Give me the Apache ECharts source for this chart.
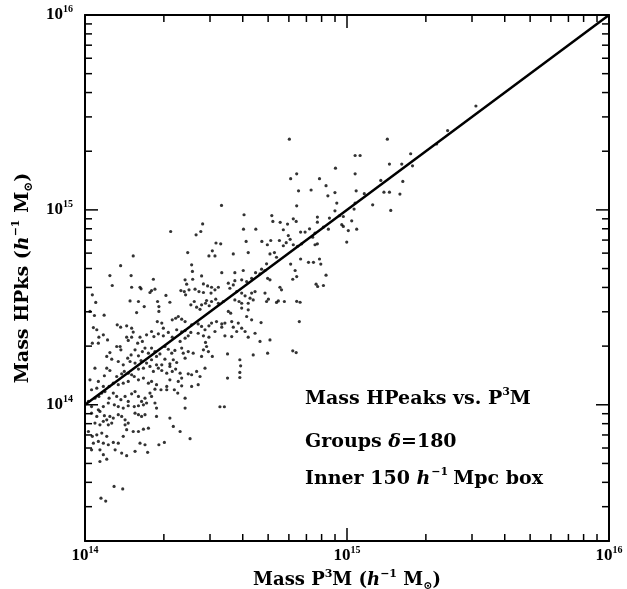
<!DOCTYPE html>
<html><head><meta charset="utf-8">
<script src="https://cdn.jsdelivr.net/npm/echarts@6/dist/echarts.min.js"></script>
<style>html,body{margin:0;padding:0;background:#fff}#c{width:627px;height:589px}</style>
</head><body><div id="c"></div>
<script>
// log10(M / 1e14 h^-1 Msun) for each group: P3M mass (x) and HPeaks mass (y)
const dexP3M = [
.184,.136,.392,.473,.496,.486,.566,.623,.706,.723,.731,.407,
.095,.176,.104,.410,.411,.522,.572,.604,.572,.598,.617,.636,.651,.668,.687,.674,.693,.697,.706,.382,.388,.445,.452,
.028,.041,.178,.210,.214,.261,.254,.267,.248,.309,.366,.379,.384,.397,.420,.435,.452,.468,.483,.481,.496,.509,.547,.553,.566,.579,.598,.611,.636,.649,.744,.750,.687,
.172,.204,.226,.197,.277,.282,.282,.324,.404,.417,.426,.439,.445,.460,.464,.474,.483,.499,.509,.528,.547,.556,.572,.588,.598,.623,.630,.642,.693,.700,.731,.738,.761,.598,.623,.617,
.019,.036,.073,.276,.293,.299,.333,.346,.356,.369,.382,.407,.432,.445,.458,.473,.483,.502,.522,.522,.534,.560,.566,.585,.598,.636,.672,
.032,.045,.053,.070,.123,.136,.159,.178,.184,.159,.178,.210,.235,.254,.219,.201,.165,.121,.134,.086,.028,.051,.263,.280,.299,.318,.333,.350,.369,.382,.382,.363,.394,.404,.432,.452,.460,.473,.496,.534,.560,.579,.611,.623,.649,.668,.706,
.083,.095,.102,.127,.137,.163,.176,.191,.204,.219,.229,.242,.254,.267,.273,.286,.305,.318,.331,.343,.369,.375,.382,.394,.413,.452,.464,.486,.544,.591,.642,.697,.445,.471,.337,.350,.305,.324,.273,.293,.254,.235,.214,.191,.172,.146,.038,
.019,.051,.074,.083,.095,.121,.140,.150,.165,.178,.204,.223,.248,.261,.280,.293,.312,.324,.333,.346,.363,.369,.394,.407,.426,.439,.458,.324,.356,.369,.312,.273,.254,.242,.223,.204,.188,.165,.146,.127,.108,.092,.070,.045,.025,.407,.432,.544,.591,.594,.591,
.013,.025,.038,.053,.064,.076,.092,.108,.121,.137,.153,.165,.178,.191,.204,.216,.229,.248,.254,.267,.290,.312,.341,.354,.382,.382,.267,.273,.235,.223,.204,.188,.165,.146,.127,.112,.089,.070,.051,.515,.532,
.025,.045,.057,.074,.083,.095,.108,.127,.140,.153,.165,.191,.204,.216,.229,.273,.324,.337,.363,.038,.057,.070,.089,.102,.153,.159,
.013,.028,.045,.064,.083,.032,.051,.070,.089,.108,.127,.146,.184,.204,.223,.242,.401,.025,.057,.070,.083,.057,.115,.140,.159,.191,.210,.229,.239,.282,.303,.111,.144,.061,.079,
.780,1.154,1.031,1.050,1.243,.956,1.162,1.209,1.250,.808,.785,.895,1.031,1.129,1.213,.815,.863,.920,.927,.954,1.035,1.066,1.141,1.162,1.202,.521,.808,.961,1.031,1.098,1.167,1.027,.954,.971,.887,.887,.933,.986,1.018,.713,.607,.717,.745,.757,.773,.795,.806,.605,.652,.823,.840,.857,.776,.783,.869,.878,.910,.929,.980,.986,1.005,1.037,.999,.424,.442,.449,.500,.518,.615,.675,.696,.709,.742,.768,.795,.811,.827,.878,.887,.757,.823,.853,.872,.895,.900,.785,.802,.793,.808,.920,.882,.888,.910,.821,.808,.818,.793,.806,
1.492,1.384,1.342,.327
];
const dexHPk = [
.764,.714,.781,.764,.764,.790,.774,.781,.774,.781,.757,.718,
.663,.663,.612,.684,.644,.678,.678,.689,.637,.641,.632,.649,.678,.672,.689,.696,.723,.649,.641,.641,.619,.661,.620,
.564,.525,.603,.603,.595,.644,.586,.593,.576,.561,.586,.581,.564,.590,.593,.581,.576,.610,.603,.573,.590,.603,.624,.598,.615,.581,.573,.559,.573,.581,.603,.590,.573,
.533,.530,.504,.473,.530,.504,.479,.526,.513,.530,.501,.490,.513,.521,.535,.508,.530,.542,.521,.530,.479,.470,.538,.530,.521,.521,.547,.538,.530,.542,.525,.533,.530,.496,.487,.453,
.479,.458,.460,.427,.419,.393,.436,.444,.453,.439,.427,.410,.415,.402,.385,.405,.419,.427,.415,.398,.419,.427,.398,.419,.393,.436,.422,
.396,.385,.347,.359,.410,.398,.405,.393,.373,.347,.347,.347,.359,.376,.325,.316,.330,.299,.299,.333,.316,.316,.350,.364,.354,.371,.347,.385,.374,.381,.342,.325,.354,.371,.367,.354,.320,.347,.376,.354,.350,.376,.376,.347,.367,.325,.333,
.248,.268,.234,.222,.282,.239,.256,.282,.251,.273,.291,.265,.291,.273,.248,.261,.299,.285,.265,.279,.291,.265,.239,.273,.265,.282,.299,.248,.261,.231,.256,.265,.248,.273,.231,.217,.234,.210,.205,.205,.231,.214,.227,.214,.222,.205,.188,
.128,.120,.149,.188,.176,.145,.159,.171,.162,.154,.183,.188,.197,.171,.188,.176,.162,.197,.171,.183,.162,.137,.159,.154,.171,.145,.188,.128,.120,.097,.094,.103,.120,.111,.137,.128,.145,.120,.111,.103,.111,.094,.094,.085,.077,.094,.103,.137,.140,.200,.166,
.017,-.009,.034,.043,.060,.068,.034,.060,.043,.026,.043,.017,.056,.068,.043,.017,.034,.060,.043,.080,.077,.077,.077,.060,.034,-.017,.009,-.017,.009,0,-.005,-.009,-.005,-.017,-.009,0,.009,-.009,-.026,-.010,-.010,
-.043,-.060,-.034,-.056,-.077,-.060,-.068,-.051,-.060,-.077,-.094,-.043,-.051,-.060,-.051,-.060,-.068,-.111,-.137,-.094,-.103,-.085,-.103,-.094,-.103,-.128,
-.137,-.162,-.154,-.145,-.162,-.197,-.188,-.197,-.205,-.193,-.197,-.162,-.137,-.137,-.125,-.120,-.174,-.231,-.231,-.256,-.279,-.291,-.231,-.248,-.261,-.239,-.197,-.205,-.244,-.205,-.193,-.419,-.432,-.479,-.494,
1.363,1.363,1.279,1.279,1.288,1.214,1.235,1.235,1.226,1.185,1.160,1.160,1.185,1.151,1.146,1.098,1.102,1.124,1.072,1.089,1.098,1.083,1.091,1.091,1.081,1.023,1.021,1.035,1.035,1.026,.997,1.004,.995,.970,.963,.937,.958,.966,.944,.971,.975,.941,.936,.898,.927,.954,.941,.901,.901,.886,.886,.903,.868,.849,.860,.881,.912,.901,.924,.915,.894,.901,.835,.872,.889,.928,.830,.826,.838,.838,.821,.843,.843,.832,.821,.813,.826,.821,.826,.816,.748,.731,.731,.748,.722,.722,.689,.644,.658,.665,.619,.607,.612,.526,.531,.427,.277,.268,
1.533,1.407,1.338,.889
];
const massUnit = 1e14;
const fitLineX = [1e14, 1e16];
const fitLineY = [1e14, 1e16];
const xRange = [1e14, 1e16];
const yRange = [2e13, 1e16];
const xMajorTicks = [1e14, 1e15, 1e16];
const yMajorTicks = [1e14, 1e15, 1e16];
const minorMult = [2, 3, 4, 5, 6, 7, 8, 9];
const xMinorDecades = [1e14, 1e15];
const yMinorDecades = [1e13, 1e14, 1e15];

const points = dexP3M.map((d, i) => [massUnit * Math.pow(10, d), massUnit * Math.pow(10, dexHPk[i])]);
const linePts = fitLineX.map((v, i) => [v, fitLineY[i]]);
const xMinorTicks = [], yMinorTicks = [];
xMinorDecades.forEach(d => minorMult.forEach(m => { const v = m * d; if (v > xRange[0] && v < xRange[1]) xMinorTicks.push(v); }));
yMinorDecades.forEach(d => minorMult.forEach(m => { const v = m * d; if (v > yRange[0] && v < yRange[1]) yMinorTicks.push(v); }));

const FONT = 'DejaVu Serif';
const LFONT = 'Liberation Serif';
const black = '#000';
const GRID = {left: 85, right: 18, top: 15, bottom: 48};
const richLabel = {
  b: {fontFamily: LFONT, fontSize: 17, fontWeight: 'bold', color: black, lineHeight: 21},
  s: {fontFamily: LFONT, fontSize: 10, fontWeight: 'bold', color: black, verticalAlign: 'top', lineHeight: 12}
};
function richText(size) {
  return {
    b: {fontFamily: FONT, fontSize: size, fontWeight: 'bold', color: black, lineHeight: size + 5},
    i: {fontFamily: FONT, fontSize: size, fontWeight: 'bold', fontStyle: 'italic', color: black, lineHeight: size + 5},
    s: {fontFamily: FONT, fontSize: Math.round(size * 0.6), fontWeight: 'bold', color: black, verticalAlign: 'top', lineHeight: Math.round(size * 0.7)},
    sp: {fontFamily: FONT, fontSize: Math.round(size * 0.6), fontWeight: 'bold', color: black, verticalAlign: 'top', lineHeight: Math.round(size * 0.7), padding: [0, 5, 0, 1]},
    d: {fontFamily: FONT, fontSize: Math.round(size * 0.62), fontWeight: 'bold', color: black, verticalAlign: 'bottom', lineHeight: Math.round(size * 0.6)}
  };
}
function decadeLabel(v) {
  const l = Math.log10(v), e = Math.round(l);
  if (Math.abs(l - e) > 1e-6) return '';
  return '{b|10}{s|' + e + '}';
}
function axisBase(type, show, pos, range) {
  return {
    type: 'log', logBase: 10, min: range[0], max: range[1], position: pos,
    axisLine: {show: true, lineStyle: {color: black, width: 2}},
    axisTick: {show: false},
    splitLine: {show: false},
    axisLabel: show ? {show: true, formatter: decadeLabel, rich: richLabel, margin: type === 'x' ? 4 : 12} : {show: false}
  };
}

const xMain = axisBase('x', true, 'bottom', xRange);
xMain.name = '{b|Mass P}{s|3}{b|M (}{i|h}{s|−1}{b| M}{d|⊙}{b|)}';
xMain.nameLocation = 'middle'; xMain.nameGap = 24;
xMain.nameTextStyle = {rich: richText(18)};
const yMain = axisBase('y', true, 'left', yRange);
yMain.name = '{b|Mass HPks (}{i|h}{s|−1}{b| M}{d|⊙}{b|)}';
yMain.nameLocation = 'middle'; yMain.nameGap = 36; yMain.nameRotate = 90;
yMain.nameTextStyle = {rich: richText(19)};

const annotX = 305;
const annotation = [
  {y: 399, text: '{b|Mass HPeaks vs. P}{s|3}{b|M}'},
  {y: 445, text: '{b|Groups }{i|δ}{b|=180}'},
  {y: 479, text: '{b|Inner 150 }{i|h}{sp|−1}{b|Mpc box}'}
];

const chart = echarts.init(document.getElementById('c'));
chart.setOption({
  animation: false,
  backgroundColor: '#fff',
  grid: Object.assign({outerBoundsMode: 'none'}, GRID),
  xAxis: [xMain, axisBase('x', false, 'top', xRange)],
  yAxis: [yMain, axisBase('y', false, 'right', yRange)],
  series: [
    {type: 'scatter', data: points, symbolSize: 3.2, itemStyle: {color: black}, progressive: 0},
    {type: 'line', data: linePts, showSymbol: false, lineStyle: {color: black, width: 2.5}}
  ]
});

// tick marks on all four sides, placed with the axes' log scales
const W = chart.getWidth(), H = chart.getHeight();
const plotW = W - GRID.left - GRID.right, plotH = H - GRID.top - GRID.bottom;
function logFrac(v, r) { return (Math.log10(v) - Math.log10(r[0])) / (Math.log10(r[1]) - Math.log10(r[0])); }
function toPxX(v) {
  let p;
  try { p = chart.convertToPixel({xAxisIndex: 0}, v); } catch (e) { p = NaN; }
  if (Array.isArray(p)) p = p[0];
  if (typeof p !== 'number' || !isFinite(p)) p = GRID.left + logFrac(v, xRange) * plotW;
  return p;
}
function toPxY(v) {
  let p;
  try { p = chart.convertToPixel({yAxisIndex: 0}, v); } catch (e) { p = NaN; }
  if (Array.isArray(p)) p = p[1];
  if (typeof p !== 'number' || !isFinite(p)) p = GRID.top + (1 - logFrac(v, yRange)) * plotH;
  return p;
}
const gLeft = toPxX(xRange[0]), gRight = toPxX(xRange[1]);
const gBottom = toPxY(yRange[0]), gTop = toPxY(yRange[1]);
const tickEls = [];
function tickLine(x1, y1, x2, y2) {
  tickEls.push({type: 'line', z: 50, silent: true, shape: {x1: x1, y1: y1, x2: x2, y2: y2}, style: {stroke: black, lineWidth: 1.5, fill: null}});
}
function xTick(v, L) { const x = toPxX(v); tickLine(x, gBottom, x, gBottom - L); tickLine(x, gTop, x, gTop + L); }
function yTick(v, L) { const y = toPxY(v); tickLine(gLeft, y, gLeft + L, y); tickLine(gRight, y, gRight - L, y); }
xMajorTicks.forEach(v => xTick(v, 13));
xMinorTicks.forEach(v => xTick(v, 7));
yMajorTicks.forEach(v => yTick(v, 13));
yMinorTicks.forEach(v => yTick(v, 7));

const textEls = annotation.map(a => ({
  type: 'text', left: annotX, top: a.y - 12, z: 50,
  style: {text: a.text, rich: richText(19)}
}));
chart.setOption({graphic: {elements: tickEls.concat(textEls)}});
</script>
</body></html>
